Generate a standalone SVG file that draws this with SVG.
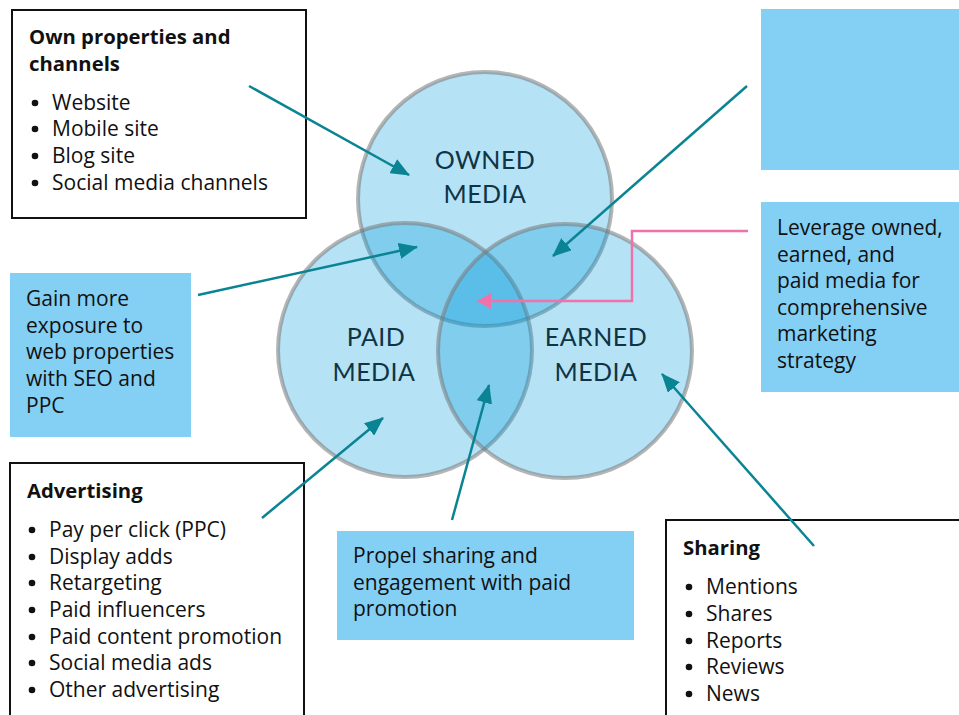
<svg xmlns="http://www.w3.org/2000/svg" width="959" height="715" viewBox="0 0 959 715">
<defs>
<style>
.t{font-family:"Open Sans","Noto Sans","Liberation Sans",sans-serif;font-size:21px;fill:#111;}
.b{font-weight:bold;font-size:20.3px;}
.c{font-family:Lato,"Open Sans","Liberation Sans",sans-serif;font-size:25px;fill:#0e3446;text-anchor:middle;letter-spacing:0.5px;}
.box{fill:#fff;stroke:#111;stroke-width:2;}
.blue{fill:#84cff4;}
.dot{fill:#111;}
.circ{fill:#009cdd;fill-opacity:0.29;stroke:#787878;stroke-opacity:0.55;stroke-width:4;}
.arr{stroke:#0a8493;stroke-width:2.5;fill:none;marker-end:url(#ah);}
.pink{stroke:#ef72ab;stroke-width:2.5;fill:none;marker-end:url(#ph);}
</style>
<marker id="ah" markerUnits="userSpaceOnUse" markerWidth="20" markerHeight="16" refX="18" refY="8" orient="auto">
<path d="M0,0 L19,8 L0,16 z" fill="#0a8493"/>
</marker>
<marker id="ph" markerUnits="userSpaceOnUse" markerWidth="14" markerHeight="16" refX="13" refY="8" orient="auto">
<path d="M0,0 L14,8 L0,16 z" fill="#ef72ab"/>
</marker>
</defs>
<rect width="959" height="715" fill="#fff"/>

<g id="venn">
<circle id="owned" class="circ" cx="485" cy="199" r="127"/>
<circle id="paid" class="circ" cx="405" cy="350" r="127"/>
<circle id="earned" class="circ" cx="565" cy="351" r="127"/>
<text class="c" x="485" y="169">OWNED</text>
<text class="c" x="485" y="203">MEDIA</text>
<text class="c" x="376" y="346">PAID</text>
<text class="c" x="374" y="381">MEDIA</text>
<text class="c" x="596" y="346">EARNED</text>
<text class="c" x="596" y="381">MEDIA</text>
</g>

<g id="own-box">
<rect class="box" x="12" y="10" width="294" height="208"/>
<text class="t b" x="29" y="44">Own properties and</text>
<text class="t b" x="29" y="71">channels</text>
<circle class="dot" cx="35" cy="103" r="3.3"/><text class="t" x="52" y="110">Website</text>
<circle class="dot" cx="35" cy="129" r="3.3"/><text class="t" x="52" y="136">Mobile site</text>
<circle class="dot" cx="35" cy="156" r="3.3"/><text class="t" x="52" y="163">Blog site</text>
<circle class="dot" cx="35" cy="183" r="3.3"/><text class="t" x="52" y="190">Social media channels</text>
</g>

<g id="top-right-box">
<rect class="blue" x="761" y="9" width="200" height="161"/>
</g>

<g id="leverage-box">
<rect class="blue" x="761" y="202" width="200" height="190"/>
<text class="t" x="777" y="235">Leverage owned,</text>
<text class="t" x="777" y="261.5">earned, and</text>
<text class="t" x="777" y="288">paid media for</text>
<text class="t" x="777" y="314.5">comprehensive</text>
<text class="t" x="777" y="341">marketing</text>
<text class="t" x="777" y="367.5">strategy</text>
</g>

<g id="gain-box">
<rect class="blue" x="10" y="273" width="181" height="164"/>
<text class="t" x="26" y="306">Gain more</text>
<text class="t" x="26" y="333">exposure to</text>
<text class="t" x="26" y="359">web properties</text>
<text class="t" x="26" y="386">with SEO and</text>
<text class="t" x="26" y="413">PPC</text>
</g>

<g id="advertising-box">
<rect class="box" x="10" y="463" width="294" height="260"/>
<text class="t b" x="27" y="498">Advertising</text>
<circle class="dot" cx="32" cy="530" r="3.3"/><text class="t" x="49" y="537">Pay per click (PPC)</text>
<circle class="dot" cx="32" cy="557" r="3.3"/><text class="t" x="49" y="564">Display adds</text>
<circle class="dot" cx="32" cy="583" r="3.3"/><text class="t" x="49" y="590">Retargeting</text>
<circle class="dot" cx="32" cy="610" r="3.3"/><text class="t" x="49" y="617">Paid influencers</text>
<circle class="dot" cx="32" cy="637" r="3.3"/><text class="t" x="49" y="644">Paid content promotion</text>
<circle class="dot" cx="32" cy="663" r="3.3"/><text class="t" x="49" y="670">Social media ads</text>
<circle class="dot" cx="32" cy="690" r="3.3"/><text class="t" x="49" y="697">Other advertising</text>
</g>

<g id="propel-box">
<rect class="blue" x="337" y="531" width="297" height="109"/>
<text class="t" x="353" y="563">Propel sharing and</text>
<text class="t" x="353" y="590">engagement with paid</text>
<text class="t" x="353" y="616">promotion</text>
</g>

<g id="sharing-box">
<rect class="box" x="666" y="520" width="300" height="210"/>
<text class="t b" x="683" y="555">Sharing</text>
<circle class="dot" cx="689" cy="587" r="3.3"/><text class="t" x="706" y="594">Mentions</text>
<circle class="dot" cx="689" cy="614" r="3.3"/><text class="t" x="706" y="621">Shares</text>
<circle class="dot" cx="689" cy="641" r="3.3"/><text class="t" x="706" y="648">Reports</text>
<circle class="dot" cx="689" cy="667" r="3.3"/><text class="t" x="706" y="674">Reviews</text>
<circle class="dot" cx="689" cy="694" r="3.3"/><text class="t" x="706" y="701">News</text>
</g>

<g id="connectors">
<line class="arr" x1="249" y1="86" x2="409" y2="175"/>
<line class="arr" x1="747" y1="86" x2="553" y2="256"/>
<line class="arr" x1="198" y1="295" x2="417" y2="247"/>
<polyline class="pink" points="748,231 632,231 632,301 478,301"/>
<line class="arr" x1="262" y1="518" x2="383" y2="418"/>
<line class="arr" x1="452" y1="520" x2="489" y2="385"/>
<line class="arr" x1="814" y1="546" x2="662" y2="374"/>
</g>
</svg>
